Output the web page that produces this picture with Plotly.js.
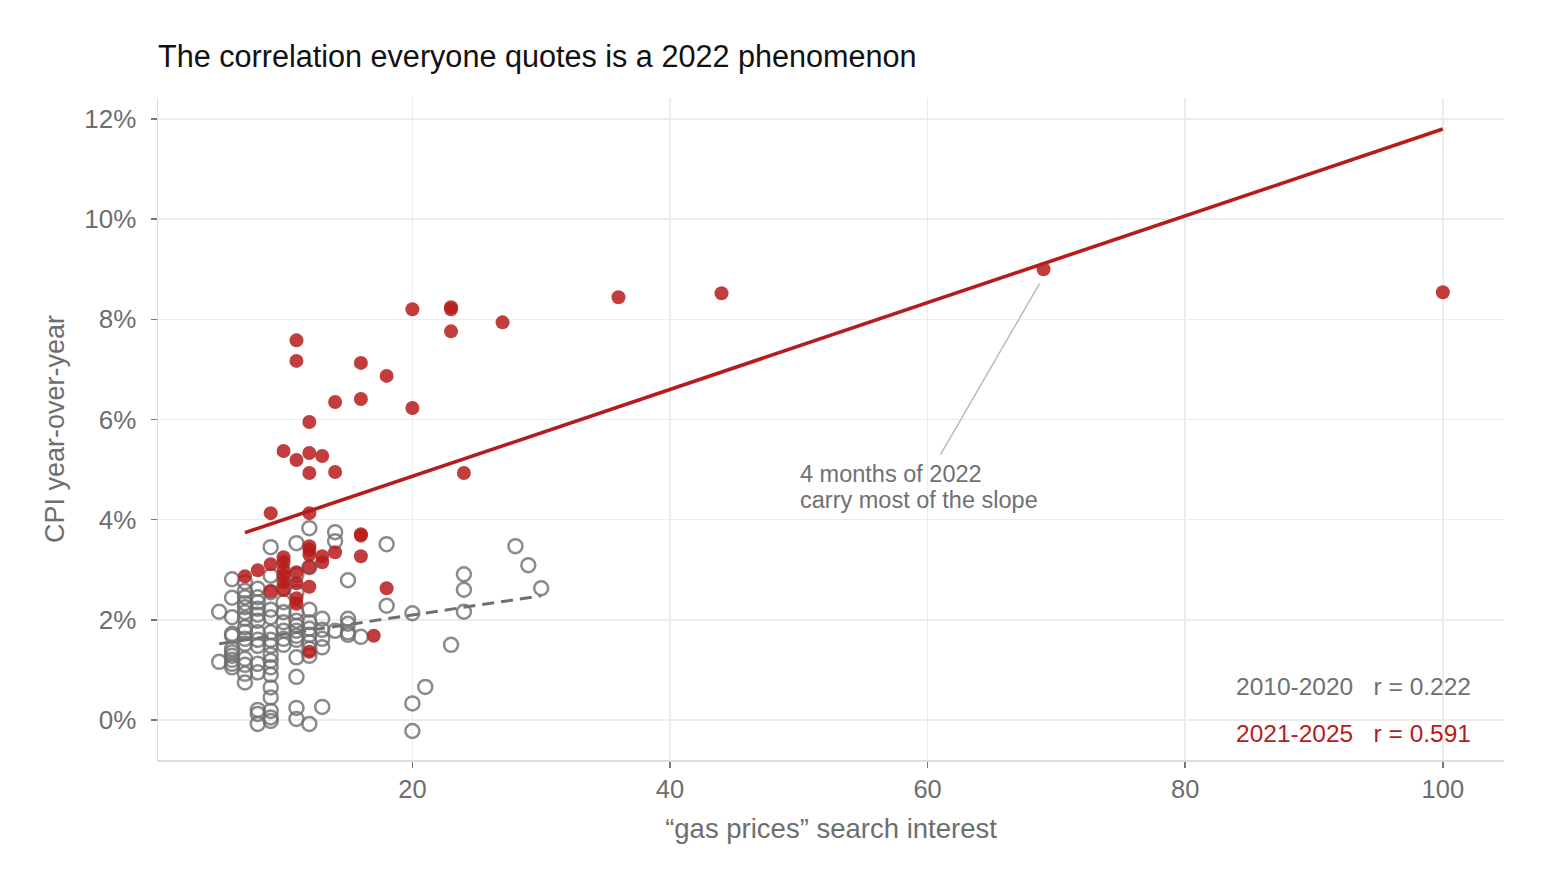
<!DOCTYPE html>
<html>
<head>
<meta charset="utf-8">
<script src="https://cdn.plot.ly/plotly-3.0.1.min.js"></script>
<style>
  html, body { margin: 0; padding: 0; background: #fff; }
  #plotly { width: 1547px; height: 888px; }
</style>
</head>
<body>
<div id="plotly"></div>
<script>
var grayX, grayY, redX, redY, grayFitX, grayFitY, redFitX, redFitY,
  calloutX, calloutY, yTicks, yTickText, xTicks, columns, expand, g, data, layout, config;

// 2010-2020 months, grouped by search-interest value (x) -> CPI values
columns = {
  5: [2.16, 1.16],
  6: [2.81, 2.44, 2.05, 1.72, 1.68, 1.42, 1.35, 1.28, 1.2, 1.12, 1.05],
  7: [2.75, 2.58, 2.45, 2.33, 2.25, 2.15, 2.02, 1.85, 1.76, 1.62, 1.52, 1.22, 1.1, 0.92, 0.75],
  8: [2.62, 2.45, 2.35, 2.22, 2.1, 1.98, 1.75, 1.6, 1.48, 1.12, 0.95, 0.2, 0.12, -0.08],
  9: [3.45, 2.88, 2.55, 2.2, 2.05, 1.75, 1.6, 1.48, 1.3, 1.18, 1.05, 0.9, 0.65, 0.45, 0.18, 0.05, -0.02],
  10: [2.62, 2.35, 2.15, 1.95, 1.78, 1.62, 1.5],
  11: [3.53, 2.9, 2.55, 2.15, 1.98, 1.88, 1.78, 1.68, 1.6, 1.25, 0.86, 0.24, 0.02],
  12: [3.83, 3.05, 2.2, 1.95, 1.82, 1.7, 1.55, 1.42, 1.28, -0.08],
  13: [2.02, 1.8, 1.62, 1.45, 0.26],
  14: [3.75, 3.57, 1.78],
  15: [2.79, 2.02, 1.92, 1.75, 1.7],
  16: [1.66],
  18: [3.51, 2.28],
  20: [2.13, 0.33, -0.22],
  21: [0.66],
  23: [1.5],
  24: [2.91, 2.6, 2.16],
  28: [3.47],
  29: [3.09],
  30: [2.63]
};

redX = [100, 69, 44, 36, 27, 23, 23, 23, 20, 20, 24,
  11, 11, 16, 18, 16, 14, 12, 10, 11, 12, 13, 12, 14,
  9, 12, 16, 16, 12, 14, 13, 13, 16,
  12, 12, 12, 12,
  10, 10, 10, 10, 10, 10,
  9, 9, 8, 7, 11, 11, 11, 11, 18, 17, 12];
redY = [8.54, 9.0, 8.52, 8.44, 7.94, 8.2, 8.24, 7.76, 8.2, 6.23, 4.93,
  7.58, 7.17, 7.13, 6.87, 6.41, 6.35, 5.95, 5.37, 5.19, 5.33, 5.27, 4.93, 4.95,
  4.13, 4.13, 3.71, 3.68, 3.47, 3.35, 3.27, 3.15, 3.27,
  3.4, 3.3, 3.05, 2.66,
  3.25, 3.15, 3.0, 2.88, 2.75, 2.6,
  3.11, 2.57, 2.99, 2.87, 2.95, 2.73, 2.43, 2.32, 2.63, 1.68, 1.36];

// fitted lines
grayFitX = [5, 30];
grayFitY = [1.52, 2.48];
redFitX = [7, 100];
redFitY = [3.74, 11.8];

// callout leader line
calloutX = [61, 68.7];
calloutY = [5.3, 8.72];

yTicks = [0, 2, 4, 6, 8, 10, 12];
yTickText = ['0%', '2%', '4%', '6%', '8%', '10%', '12%'];
xTicks = [20, 40, 60, 80, 100];

expand = function(cols) {
  var xs = [], ys = [], k, i;
  for (k in cols) {
    for (i = 0; i < cols[k].length; i++) {
      xs.push(Number(k));
      ys.push(cols[k][i]);
    }
  }
  return [xs, ys];
};
g = expand(columns);
grayX = g[0];
grayY = g[1];

data = [
  {
    x: grayX, y: grayY, mode: 'markers', type: 'scatter',
    marker: {
      size: 14, color: 'rgba(0,0,0,0)',
      line: {color: 'rgba(110,110,110,0.8)', width: 2.5}
    }
  },
  {
    x: grayFitX, y: grayFitY, mode: 'lines', type: 'scatter',
    line: {color: '#707070', width: 3, dash: '12px,7px'}
  },
  {
    x: redX, y: redY, mode: 'markers', type: 'scatter',
    marker: {size: 14, color: 'rgba(183,28,28,0.85)'}
  },
  {
    x: redFitX, y: redFitY, mode: 'lines', type: 'scatter',
    line: {color: '#b71c1c', width: 3.6}
  },
  {
    x: calloutX, y: calloutY, mode: 'lines', type: 'scatter',
    line: {color: '#bbbbbb', width: 1.5}
  }
];

layout = {
  width: 1547,
  height: 888,
  showlegend: false,
  font: {family: '"Liberation Sans", Arial, sans-serif', color: '#6e6e6e'},
  paper_bgcolor: '#ffffff',
  plot_bgcolor: '#ffffff',
  margin: {l: 158, r: 43, t: 98, b: 128},
  title: {
    text: 'The correlation everyone quotes is a 2022 phenomenon',
    font: {size: 30.6, color: '#111111'},
    xref: 'paper', x: 0, xanchor: 'left',
    yref: 'container', y: 0.937, yanchor: 'middle'
  },
  xaxis: {
    range: [0.25, 104.75],
    tickvals: xTicks,
    ticks: 'outside', ticklen: 6, tickwidth: 1.5, tickcolor: '#777777',
    tickfont: {size: 25.5, color: '#6e6e6e'},
    showgrid: true, gridcolor: '#ececec', gridwidth: 1.5,
    zeroline: false,
    showline: true, linecolor: '#dddddd', linewidth: 1.5,
    title: {text: '“gas prices” search interest', font: {size: 27.5, color: '#6e6e6e'}, standoff: 16}
  },
  yaxis: {
    range: [-0.8, 12.42],
    tickvals: yTicks,
    ticktext: yTickText,
    ticks: 'outside', ticklen: 6, tickwidth: 1.5, tickcolor: '#777777',
    ticklabelstandoff: 9,
    tickfont: {size: 26, color: '#6e6e6e'},
    showgrid: true, gridcolor: '#ececec', gridwidth: 1.5,
    zeroline: false,
    showline: true, linecolor: '#dddddd', linewidth: 1.5,
    title: {text: 'CPI year-over-year', font: {size: 27, color: '#6e6e6e'}, standoff: 12}
  },
  annotations: [
    {
      text: '4 months of 2022',
      x: 49.9, y: 4.92, xref: 'x', yref: 'y',
      xanchor: 'left', yanchor: 'middle', align: 'left',
      showarrow: false,
      font: {size: 23.5, color: '#707070'}
    },
    {
      text: 'carry most of the slope',
      x: 49.9, y: 4.4, xref: 'x', yref: 'y',
      xanchor: 'left', yanchor: 'middle', align: 'left',
      showarrow: false,
      font: {size: 23.5, color: '#707070'}
    },
    {
      text: '2010-2020   r = 0.222',
      x: 0.977, y: 0.66, xref: 'paper', yref: 'y',
      xanchor: 'right', yanchor: 'middle',
      showarrow: false,
      font: {size: 24.5, color: '#707070'}
    },
    {
      text: '2021-2025   r = 0.591',
      x: 0.977, y: -0.28, xref: 'paper', yref: 'y',
      xanchor: 'right', yanchor: 'middle',
      showarrow: false,
      font: {size: 24.5, color: '#b71c1c'}
    }
  ]
};

config = {staticPlot: true};

Plotly.newPlot('plotly', data, layout, config);
</script>
</body>
</html>
